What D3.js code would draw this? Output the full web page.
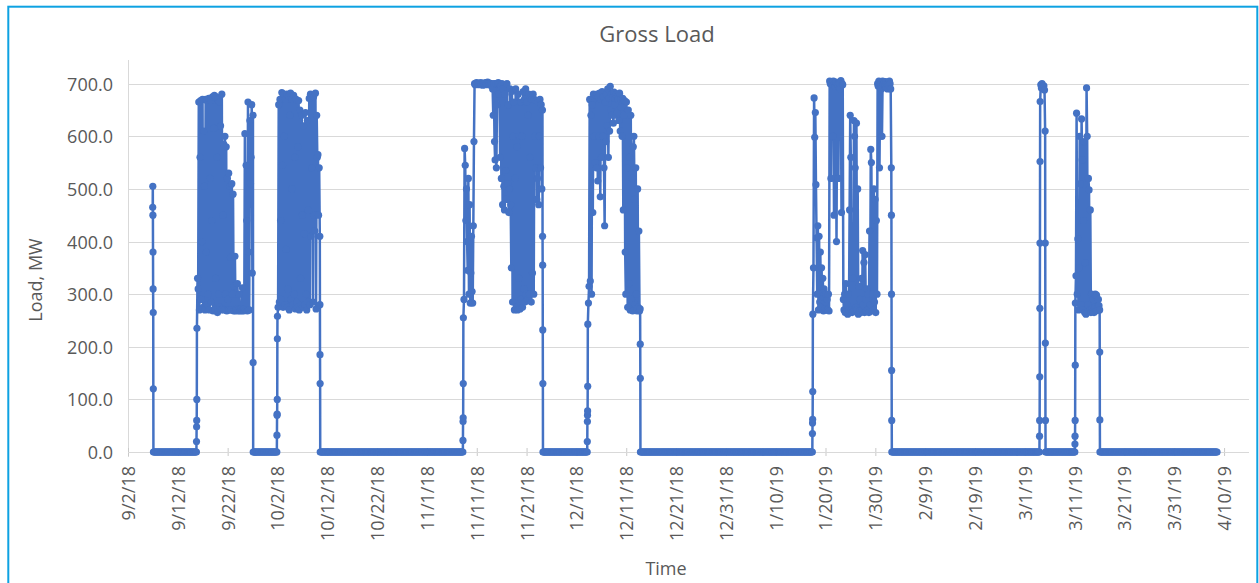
<!DOCTYPE html>
<html>
<head>
<meta charset="utf-8">
<script src="https://cdn.jsdelivr.net/npm/d3@7"></script>
<style>
  html, body { margin: 0; padding: 0; background: #ffffff; }
  svg { display: block; }
  text { font-family: "Open Sans", "Noto Sans", sans-serif; fill: #595959; }
</style>
</head>
<body>
<svg id="chart" width="1259" height="583"></svg>
<script>
// ---------------- DATA ----------------
const chartTitle = "Gross Load";
const xAxisTitle = "Time";
const yAxisTitle = "Load, MW";

// first reading of the series
const seriesStart = "2018-09-06 23:00";
const stepHours = 3;       // normal logging interval
const fastStepHours = 0.5; // logging interval during start-up / shut-down ramps

// periods when the unit was running (MW readings)
const blockA = [465, 505, 450, 380, 310, 265, 120];
const blockB = [
  20, 48, 60, 100, 235,
  330, 310, 665, 270, 560, 668, 290, 400, 670, 275,
  610, 505, 270, 670, 380, 668, 280, 300, 672, 270,
  520, 668, 285, 440, 675, 268, 615, 678, 270, 330,
  675, 560, 265, 670, 300, 665, 275, 620, 270, 680,
  272, 450, 585, 270, 600, 300, 580, 268, 520, 290,
  530, 270, 505, 370, 270, 510, 300, 490, 268, 315,
  372, 268, 272, 270, 320, 268, 270, 300, 268, 270,
  272, 268, 312, 270, 268, 272, 605, 270, 545, 440,
  268, 665, 380, 270, 630, 510, 560, 660, 340, 640,
  170
];
const blockC = [
  32, 70, 72, 100, 215, 258,
  275, 660, 285, 670, 440, 290, 683, 545, 275, 680,
  600, 280, 670, 385, 680, 275, 310, 676, 270, 640,
  682, 290, 500, 670, 280, 678, 300, 560, 272, 670,
  285, 275, 580, 668, 270, 650, 330, 280, 640, 450,
  275, 620, 415, 280, 645, 300, 270, 630, 460, 285,
  672, 280, 680, 410, 540, 678, 285, 675, 450, 420,
  682, 272, 640, 560, 565, 450, 540, 410,
  280, 185, 130
];
const blockD = [
  22, 58, 65, 130, 255,
  290, 577, 545, 440, 500, 400, 345, 520, 300, 470,
  283, 340, 410, 305, 283, 430, 590, 700, 698, 700,
  702, 699, 700, 701, 698, 700, 700, 702, 699, 700,
  697, 700, 701, 700, 698, 702, 700, 699, 703, 700,
  698, 701, 700, 697, 700, 698, 690, 640, 700, 590,
  555, 700, 540, 660, 700, 702, 680, 700, 560, 695,
  520, 700, 470, 690, 505, 460, 680, 535, 480, 700,
  510, 660, 455, 500, 690, 470, 350, 685, 285, 600,
  665, 270, 520, 690, 275, 580, 270, 680, 330, 600,
  272, 665, 290, 600, 275, 685, 310, 670, 285, 690,
  300, 665, 290, 640, 680, 300, 560, 672, 285, 670,
  340, 680, 300, 670, 600, 540, 668, 480, 520, 665,
  470, 600, 670, 540, 660, 500, 650,
  410, 355, 232, 130
];
const blockE = [
  20, 58, 70, 78, 125, 243,
  283, 315, 670, 325, 640, 300, 660, 455, 680, 600,
  672, 550, 678, 540, 680, 515, 675, 600, 682, 485,
  670, 560, 685, 600, 675, 540, 430, 665, 590, 680,
  620, 690, 560, 672, 610, 695, 650, 680, 640, 675,
  625, 684, 660, 672, 640, 680, 645, 676, 670, 630,
  682, 610, 670, 655, 600, 672, 460, 640, 668, 380,
  300, 665, 540, 275, 650, 320, 560, 270, 640, 290,
  520, 268, 580, 600, 480, 280, 540, 300, 268, 500,
  275, 420, 268, 272,
  205, 140
];
const blockF = [
  35, 55, 62, 115, 262,
  350, 673, 598, 645, 508, 407, 300, 430, 270, 410,
  285, 380, 275, 350, 290, 330, 268, 310, 272, 285,
  300, 270, 290, 270, 300, 268, 705, 700, 520, 702,
  698, 600, 705, 450, 700, 695, 703, 400, 700, 698,
  520, 702, 700, 690, 706, 455, 700, 698, 290, 270,
  300, 265, 320, 268, 280, 262, 300, 270, 460, 640,
  560, 270, 265, 330, 268, 630, 600, 540, 275, 625,
  270, 500, 262, 315, 268, 290, 265, 330, 270, 383,
  280, 360, 265, 375, 290, 268, 310, 270, 300, 265,
  420, 280, 575, 550, 268, 300, 270, 500, 285, 480,
  265, 440, 300, 700, 695, 705, 540, 700, 702, 690,
  600, 705, 698, 700, 703, 698, 704, 692, 700, 690,
  700, 697, 705, 700, 690, 540,
  450, 300, 155, 60
];
const blockG = [
  30, 60, 143, 273, 397, 552, 666,
  698, 692, 700, 695, 690, 696, 688, 610,
  397, 207, 60
];
const blockH = [
  15, 30, 60, 165, 283,
  335, 644, 300, 405, 270, 350, 600, 510, 280, 633,
  555, 270, 440, 590, 265, 360, 262, 692, 600, 280,
  520, 498, 270, 460, 265, 300, 272, 268, 290, 265,
  275, 300, 268, 298, 270, 275, 290, 278, 270,
  190, 61
];
// readings of each block logged at the fast interval (start-up ramp / shut-down ramp)
const rampUpCounts   = [0, 5, 6, 5, 6, 5, 7, 5];
const rampDownCounts = [6, 1, 3, 4, 2, 4, 3, 2];
// number of consecutive 0 MW readings after each running block (run-length)
const offRuns = [70, 39, 230, 72, 277, 238, 48, 189];

const yTicks = [0, 100, 200, 300, 400, 500, 600, 700];
const xTickLabels = ["9/2/18", "9/12/18", "9/22/18", "10/2/18", "10/12/18", "10/22/18",
  "11/1/18", "11/11/18", "11/21/18", "12/1/18", "12/11/18", "12/21/18", "12/31/18",
  "1/10/19", "1/20/19", "1/30/19", "2/9/19", "2/19/19", "3/1/19", "3/11/19",
  "3/21/19", "3/31/19", "4/10/19"];
const xAxisMin = "9/2/18";
const xAxisMax = "4/15/19";
const yAxisMax = 745;

// ---------------- BUILD ----------------
const blocks = [blockA, blockB, blockC, blockD, blockE, blockF, blockG, blockH];
const HOUR = 3600e3;
const t0 = d3.timeParse("%Y-%m-%d %H:%M")(seriesStart);
const data = [];
let tms = +t0;
let first = true;
blocks.forEach((b, bi) => {
  b.forEach((v, j) => {
    if (!first) {
      const fast = j < rampUpCounts[bi] || j >= b.length - rampDownCounts[bi];
      tms += (fast ? fastStepHours : stepHours) * HOUR;
    }
    first = false;
    data.push({ t: new Date(tms), v });
  });
  for (let k = 0; k < offRuns[bi]; k++) {
    tms += (k === 0 ? fastStepHours : stepHours) * HOUR;
    data.push({ t: new Date(tms), v: 0 });
  }
});

const parseTick = d3.timeParse("%m/%d/%y");
const fmtTick = d3.timeFormat("%-m/%-d/%y");

const svg = d3.select("#chart");
const plot = { left: 128, right: 1249, top: 60, bottom: 452 };

const x = d3.scaleTime()
  .domain([parseTick(xAxisMin), parseTick(xAxisMax)])
  .range([plot.left, plot.right]);
const y = d3.scaleLinear()
  .domain([0, yAxisMax])
  .range([plot.bottom, plot.top]);

// outer frame
svg.append("rect")
  .attr("x", 8.3).attr("y", 6.7)
  .attr("width", 1249).attr("height", 640)
  .attr("fill", "none")
  .attr("stroke", "#0ea2e2")
  .attr("stroke-width", 2);

// gridlines
svg.append("g")
  .selectAll("line")
  .data(yTicks.filter(d => d > 0))
  .join("line")
  .attr("x1", plot.left).attr("x2", plot.right)
  .attr("y1", d => Math.round(y(d)) + 0.5).attr("y2", d => Math.round(y(d)) + 0.5)
  .attr("stroke", "#d9d9d9").attr("stroke-width", 1);

// y axis
const yAxis = d3.axisLeft(y)
  .tickValues(yTicks)
  .tickFormat(d3.format(".1f"))
  .tickSize(0)
  .tickPadding(15);
const gy = svg.append("g")
  .attr("transform", `translate(${plot.left},0)`)
  .call(yAxis);
gy.select(".domain").remove();
gy.selectAll("text")
  .style("font-size", "18px")
  .attr("fill", "#595959")
  .attr("dy", "0.36em");

// y axis line
svg.append("line")
  .attr("x1", plot.left + 0.5).attr("x2", plot.left + 0.5)
  .attr("y1", plot.top).attr("y2", plot.bottom + 5)
  .attr("stroke", "#d9d9d9").attr("stroke-width", 1);

// x axis
const xAxis = d3.axisBottom(x)
  .tickValues(xTickLabels.map(parseTick))
  .tickFormat(fmtTick)
  .tickSize(0);
const gx = svg.append("g")
  .attr("transform", `translate(0,${plot.bottom})`)
  .call(xAxis);
gx.select(".domain").remove();
gx.selectAll(".tick line")
  .attr("y1", -4).attr("y2", 4)
  .attr("stroke", "#c9c9c9");
gx.selectAll("text")
  .style("font-size", "18px")
  .attr("fill", "#595959")
  .attr("transform", "rotate(-90)")
  .attr("text-anchor", "end")
  .attr("x", -14)
  .attr("y", 0)
  .attr("dy", "0.36em");

// x axis line
svg.append("line")
  .attr("x1", plot.left).attr("x2", plot.right)
  .attr("y1", plot.bottom + 0.5).attr("y2", plot.bottom + 0.5)
  .attr("stroke", "#d9d9d9").attr("stroke-width", 1);

// series line
const line = d3.line().x(d => x(d.t)).y(d => y(d.v));
svg.append("path")
  .datum(data)
  .attr("d", line)
  .attr("fill", "none")
  .attr("stroke", "#4472c4")
  .attr("stroke-width", 2.5)
  .attr("stroke-linejoin", "round");

// markers
svg.append("g")
  .selectAll("circle")
  .data(data)
  .join("circle")
  .attr("cx", d => x(d.t))
  .attr("cy", d => y(d.v))
  .attr("r", 3.6)
  .attr("fill", "#4472c4");

// titles
svg.append("text")
  .attr("x", 657).attr("y", 42)
  .attr("text-anchor", "middle")
  .style("font-size", "22px")
  .text(chartTitle);

svg.append("text")
  .attr("x", 666).attr("y", 575)
  .attr("text-anchor", "middle")
  .style("font-size", "18px")
  .text(xAxisTitle);

svg.append("text")
  .attr("transform", "translate(42,280) rotate(-90)")
  .attr("text-anchor", "middle")
  .style("font-size", "18px")
  .text(yAxisTitle);
</script>
</body>
</html>
